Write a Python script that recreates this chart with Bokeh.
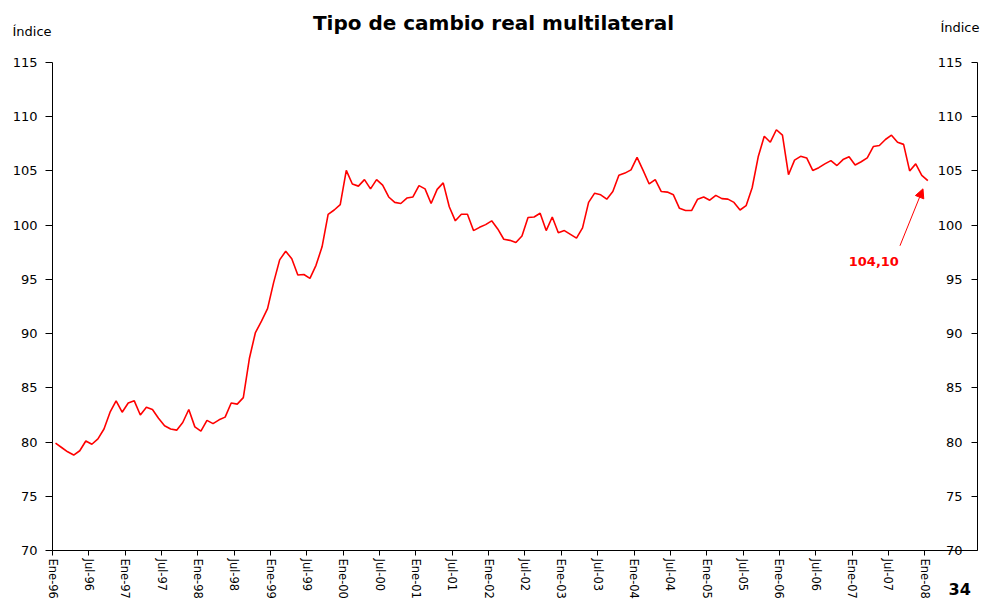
import numpy as np
from bokeh.plotting import figure
from bokeh.models import FixedTicker, LinearAxis, Range1d, Label, Arrow, NormalHead
from bokeh.embed import file_html
from bokeh.resources import INLINE
from bokeh.core.properties import value

TITLE = "Tipo de cambio real multilateral"
Y_LABEL = "Índice"
PAGE_NO = "34"

TICK_LABELS = ["Ene-96", "Jul-96", "Ene-97", "Jul-97", "Ene-98", "Jul-98",
               "Ene-99", "Jul-99", "Ene-00", "Jul-00", "Ene-01", "Jul-01",
               "Ene-02", "Jul-02", "Ene-03", "Jul-03", "Ene-04", "Jul-04",
               "Ene-05", "Jul-05", "Ene-06", "Jul-06", "Ene-07", "Jul-07",
               "Ene-08"]
Y_TICKS = [70, 75, 80, 85, 90, 95, 100, 105, 110, 115]

# Monthly index, Jan-1996 .. Jan-2008
TCRM = [
    79.9, 79.5, 79.1, 78.8, 79.2, 80.1, 79.8, 80.3, 81.2, 82.75, 83.8, 82.75,   # 1996
    83.6, 83.8, 82.5, 83.2, 83.0, 82.2, 81.5, 81.2, 81.1, 81.8, 83.0, 81.4,     # 1997
    81.0, 82.0, 81.7, 82.05, 82.3, 83.6, 83.5, 84.1, 87.7, 90.1, 91.15, 92.3,   # 1998
    94.7, 96.8, 97.6, 96.9, 95.4, 95.45, 95.1, 96.3, 98.0, 101.0, 101.4, 101.9, # 1999
    105.05, 103.8, 103.6, 104.2, 103.35, 104.2, 103.7, 102.6, 102.1, 102.0, 102.5, 102.6,  # 2000
    103.65, 103.35, 102.0, 103.3, 103.9, 101.7, 100.4, 101.0, 101.0, 99.5, 99.8, 100.05,  # 2001
    100.4, 99.65, 98.7, 98.6, 98.4, 99.0, 100.7, 100.75, 101.1, 99.5, 100.75, 99.3,      # 2002
    99.5, 99.15, 98.8, 99.75, 102.1, 102.95, 102.8, 102.4, 103.1, 104.6, 104.8, 105.1,   # 2003
    106.25, 105.05, 103.8, 104.2, 103.1, 103.05, 102.8, 101.55, 101.35, 101.35, 102.4, 102.6,  # 2004
    102.3, 102.75, 102.45, 102.4, 102.1, 101.4, 101.8, 103.45, 106.3, 108.2, 107.65, 108.8,    # 2005
    108.3, 104.65, 106.0, 106.35, 106.2, 105.05, 105.3, 105.65, 105.95, 105.5, 106.05, 106.3,  # 2006
    105.55, 105.85, 106.2, 107.25, 107.35, 107.9, 108.3, 107.65, 107.45, 105.0, 105.65, 104.6, # 2007
    104.1,                                                                                     # 2008
]

FONT = "DejaVu Sans"
RED = "#FF0000"

months = np.arange(len(TCRM)) + 0.5
tick_pos = [6 * i for i in range(len(TICK_LABELS))]

# plotting area (axes placed at fixed positions so that the texts around
# the chart stay inside the drawable frame)
W, H = 980, 600
X0, X1 = 0, 152.7          # axis extent in months
Y0, Y1 = Y_TICKS[0], Y_TICKS[-1]
LEFT_PX, RIGHT_PX = 52, 977
TOP_PX, BOT_PX = 62, 550
sx = (RIGHT_PX - LEFT_PX) / (X1 - X0)
sy = (BOT_PX - TOP_PX) / (Y1 - Y0)
x_range = Range1d(X0 - LEFT_PX / sx, X1 + (W - RIGHT_PX) / sx)
y_range = Range1d(Y0 - (H - BOT_PX) / sy, Y1 + TOP_PX / sy)

p = figure(width=W, height=H, x_range=x_range, y_range=y_range,
           output_backend="svg", toolbar_location=None,
           min_border_left=0, min_border_top=0, min_border_right=0,
           min_border_bottom=0)
p.background_fill_color = "white"
p.border_fill_color = "white"
p.outline_line_color = None
p.grid.visible = False

# left axis
ya = p.yaxis[0]
ya.fixed_location = X0
ya.bounds = (Y0, Y1)
ya.ticker = FixedTicker(ticks=Y_TICKS)
ya.major_tick_out = 7
ya.major_tick_in = 0
ya.minor_tick_line_color = None
ya.major_label_standoff = 8
ya.major_label_text_font = FONT
ya.major_label_text_font_size = "13px"
ya.major_label_text_color = "black"
ya.axis_line_color = "black"
ya.major_tick_line_color = "black"

# bottom axis
xa = p.xaxis[0]
xa.fixed_location = Y0
xa.bounds = (X0, X1)
xa.ticker = FixedTicker(ticks=tick_pos)
xa.major_label_overrides = {t: lab for t, lab in zip(tick_pos, TICK_LABELS)}
xa.major_label_orientation = "vertical"
xa.major_tick_out = 5
xa.major_tick_in = 0
xa.minor_tick_line_color = None
xa.major_label_standoff = 3
xa.major_label_text_font = FONT
xa.major_label_text_font_size = "11.5px"
xa.major_label_text_color = "black"
xa.axis_line_color = "black"
xa.major_tick_line_color = "black"

# right axis (ticks inward, labels drawn inside the frame, right-aligned)
ra = LinearAxis(ticker=FixedTicker(ticks=Y_TICKS), fixed_location=X1, bounds=(Y0, Y1))
ra.major_label_overrides = {t: "" for t in Y_TICKS}
ra.major_tick_in = 6
ra.major_tick_out = 0
ra.minor_tick_line_color = None
ra.major_label_standoff = 0
ra.axis_line_color = "black"
ra.major_tick_line_color = "black"
p.add_layout(ra, "right")
p.text(x=[X1] * len(Y_TICKS), y=Y_TICKS, text=[str(t) for t in Y_TICKS],
       x_offset=-15, text_align="right", text_baseline="middle",
       text_font=value(FONT), text_font_size="13px", text_color="black")

# series
p.line(months, TCRM, line_color=RED, line_width=1.6)

# titles / labels
p.add_layout(Label(x=X0, y=Y1, x_offset=441, y_offset=40,
                   text=TITLE, text_align="center", text_baseline="middle",
                   text_font=FONT, text_font_style="bold", text_font_size="20px",
                   text_color="black"))
p.add_layout(Label(x=X0, y=Y1, x_offset=-40, y_offset=31,
                   text=Y_LABEL, text_align="left", text_baseline="middle",
                   text_font=FONT, text_font_size="13px", text_color="black"))
p.add_layout(Label(x=X1, y=Y1, x_offset=2, y_offset=35,
                   text=Y_LABEL, text_align="right", text_baseline="middle",
                   text_font=FONT, text_font_size="13px", text_color="black"))
p.add_layout(Label(x=X1, y=Y0, x_offset=-29, y_offset=-38,
                   text=PAGE_NO, text_align="left", text_baseline="alphabetic",
                   text_font=FONT, text_font_style="bold", text_font_size="16px",
                   text_color="black"))

# last value annotation
last_x, last_y = months[-1], TCRM[-1]
p.add_layout(Label(x=last_x, y=last_y, x_offset=-54, y_offset=-81,
                   text=f"{last_y:.2f}".replace(".", ","),
                   text_align="center", text_baseline="middle",
                   text_font=FONT, text_font_style="bold", text_font_size="13px",
                   text_color=RED))
p.add_layout(Arrow(end=NormalHead(size=9, fill_color=RED, line_color=RED),
                   x_start=last_x - 4.6, y_start=last_y - 6.0,
                   x_end=last_x - 0.8, y_end=last_y - 0.75,
                   line_color=RED, line_width=1))

open("out.html", "w").write(file_html(p, INLINE))
